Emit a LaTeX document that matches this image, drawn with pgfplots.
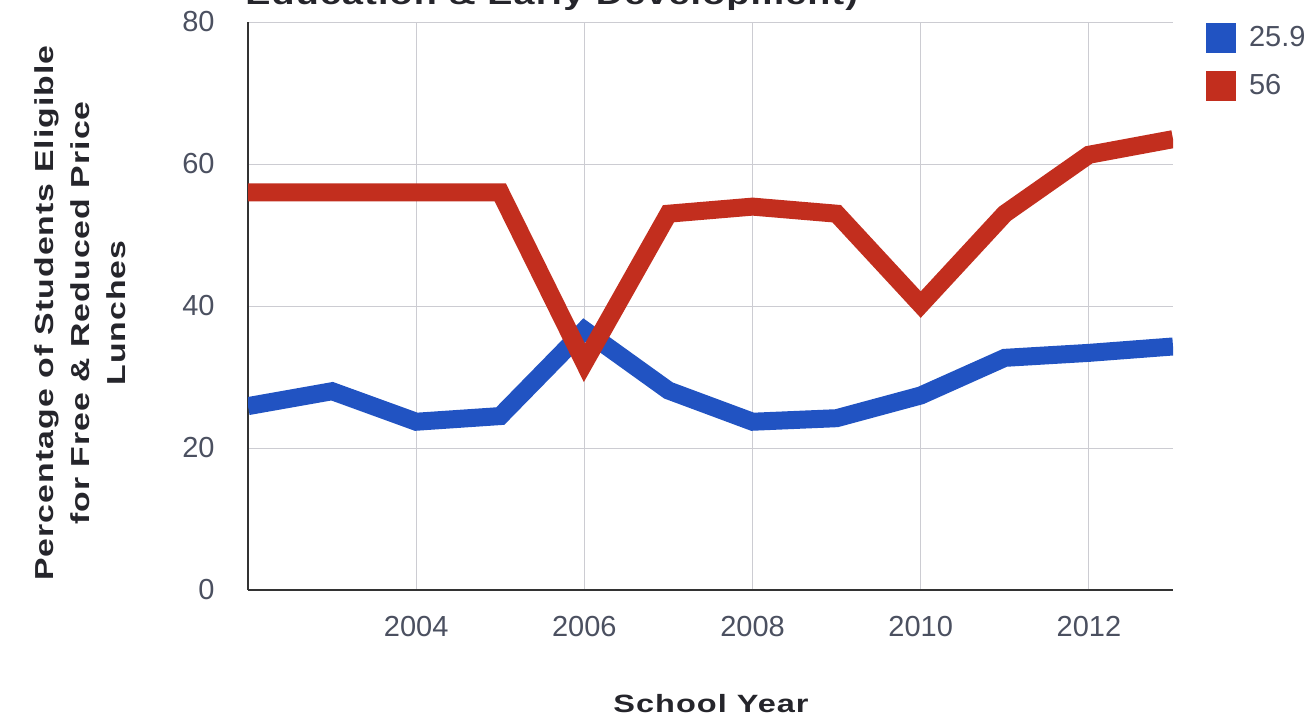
\documentclass[border=0pt]{standalone}
\usepackage{pgfplots}
\pgfplotsset{compat=1.18}
\usepackage{fontspec}
\setmainfont{Liberation Sans}
\newfontfamily\labfont[FakeStretch=1.3, LetterSpace=4]{Liberation Sans}

\definecolor{sblue}{HTML}{2153C2}
\definecolor{sred}{HTML}{C22E1E}
\definecolor{tickc}{HTML}{4B5060}
\definecolor{labc}{HTML}{25252B}
\definecolor{gridc}{HTML}{CCCCD2}

\begin{document}
\begin{tikzpicture}
\begin{axis}[
    scale only axis,
    width=462.5pt, height=284pt,
    xmin=2002, xmax=2013,
    ymin=0, ymax=80,
    xtick={2004,2006,...,2012},
    ytick={0,20,...,80},
    /pgf/number format/set thousands separator={},
    /pgf/number format/assume math mode=true,
    axis x line*=bottom, axis y line*=left,
    axis line style={line width=0.9pt, draw=black!80, -},
    major tick length=0pt,
    grid=major,
    grid style={line width=0.5pt, draw=gridc},
    tick label style={font=\fontsize{14.5}{17}\selectfont, text=tickc},
    yticklabel style={anchor=east, inner sep=0pt, xshift=-16.5pt},
    xticklabel style={anchor=base, inner sep=0pt, yshift=-23pt},
    legend style={draw=none, fill=none, inner sep=0pt, outer sep=0pt,
        at={(1,1)}, xshift=16.5pt, yshift=-0.5pt, anchor=north west,
        font=\fontsize{14.5}{17}\selectfont, text=tickc,
        row sep=8.75pt,
        nodes={inner sep=0pt, anchor=west},
        /tikz/every odd column/.append style={column sep=6.5pt}},
    legend cell align=left,
    legend image code/.code={\fill[#1, draw=none] (0pt,-7.5pt) rectangle (15pt,7.5pt);},
    every axis plot/.append style={line width=9pt, line join=miter},
]
\addplot[sblue] coordinates {
    (2002,25.9) (2003,28.0) (2004,23.7) (2005,24.5) (2006,36.6) (2007,28.1)
    (2008,23.7) (2009,24.2) (2010,27.4) (2011,32.7) (2012,33.4) (2013,34.3)};
\addlegendentry{25.9}
\addplot[sred] coordinates {
    (2002,56) (2003,56) (2004,56) (2005,56) (2006,32) (2007,53)
    (2008,54) (2009,53) (2010,40.2) (2011,53) (2012,61.3) (2013,63.5)};
\addlegendentry{56}
\end{axis}
% title (cut off at the top, as in the source), y label, x label
\node[anchor=base west, inner sep=0pt, text=labc, font=\labfont\bfseries\fontsize{14.5}{18}\selectfont]
    at (-1.5pt,293pt) {Education \& Early Development)};
\node[rotate=90, align=center, inner sep=0pt, text=labc, font=\labfont\bfseries\fontsize{13}{18}\selectfont]
    at (-84pt,138.5pt) {Percentage of Students Eligible\\for Free \& Reduced Price\\Lunches};
\node[anchor=base, inner sep=0pt, text=labc, font=\labfont\bfseries\fontsize{12.5}{16}\selectfont]
    at (231.5pt,-61pt) {School Year};
\pgfresetboundingbox
\useasboundingbox (-124pt,-65pt) rectangle (531pt,295pt);
\end{tikzpicture}
\end{document}
